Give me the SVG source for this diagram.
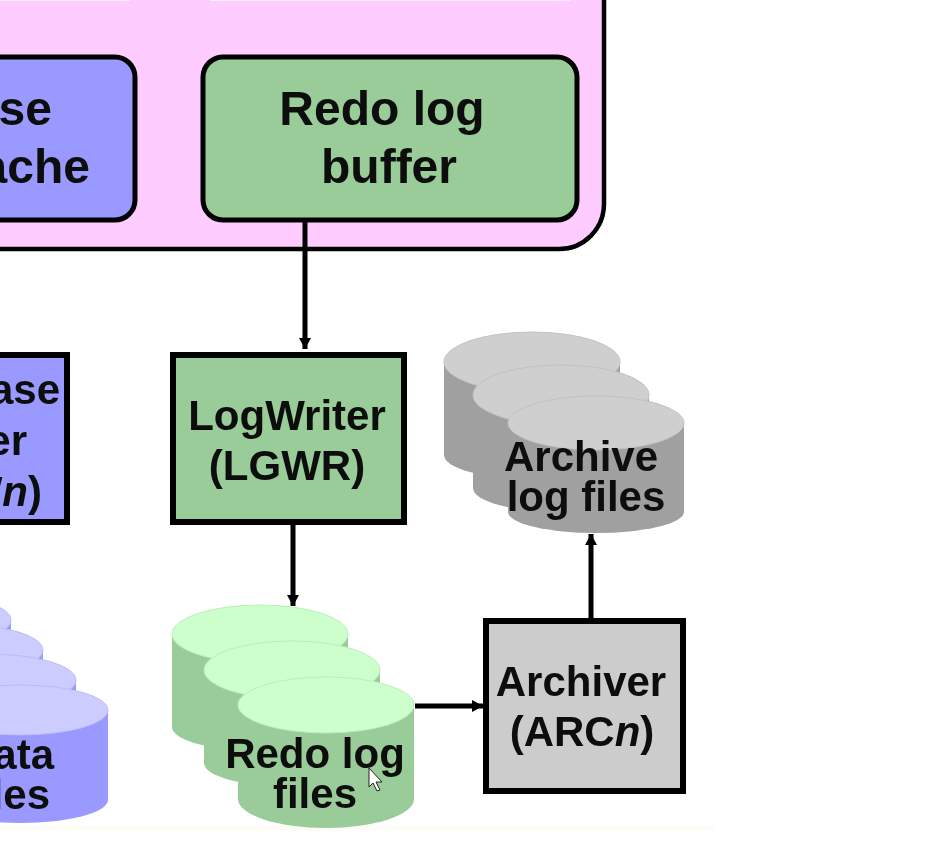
<svg xmlns="http://www.w3.org/2000/svg" width="925" height="856" viewBox="0 0 925 856">
<defs>
<filter id="soft" x="-5%" y="-5%" width="110%" height="110%"><feGaussianBlur stdDeviation="0.7"/></filter>
<marker id="arrow" markerUnits="userSpaceOnUse" markerWidth="14" markerHeight="14" refX="11" refY="6" orient="auto"><path d="M0 0L11 6L0 12Z" fill="#000"/></marker>
<path id="cyl" d="M-88 0V93A88 24 0 0 0 88 93V0Z"/>
</defs>
<style>
text{font-family:"Liberation Sans",Arial,sans-serif;font-weight:700;fill:#0a0f0a;text-anchor:middle}
.t48{font-size:48px}.t42{font-size:42px}.end{text-anchor:end}
.box{stroke:#000;stroke-width:6}
.rr{stroke:#000;stroke-width:5}
.link{fill:none;stroke:#000;stroke-width:5;marker-end:url(#arrow)}
.gs{fill:#99cc99}.gt{fill:#ccffcc;stroke:#bbeebb;stroke-width:1}.bs{fill:#9999ff}.bt{fill:#ccccff;stroke:#bcbcf6;stroke-width:1}.ys{fill:#a0a0a0}.yt{fill:#cfcfcf;stroke:#c2c2c2;stroke-width:1}
</style>
<rect width="925" height="856" fill="#fff"/>
<rect y="826" width="715" height="5" fill="#fdfcf6"/>
<g filter="url(#soft)">
<g id="sga">
<path d="M-20 -20H604V204A45 45 0 0 1 559 249H-20Z" fill="#ffccff" stroke="#000" stroke-width="4.500"/>
<rect x="-10" y="-10" width="140" height="11" fill="#fbeefb"/>
<rect x="210" y="-10" width="360" height="11" fill="#fbeefb"/>
</g>
<g id="buffer-cache">
<rect class="rr" x="-30" y="57" width="165" height="163" rx="20" fill="#9999ff"/>
<text class="t48 end" x="52" y="125">se</text>
<text class="t48 end" x="90" y="183">ache</text>
</g>
<g id="redo-buffer">
<rect class="rr" x="203" y="57" width="374" height="163" rx="20" fill="#99cc99"/>
<text class="t48" x="382" y="125">Redo log</text>
<text class="t48" x="389" y="183">buffer</text>
</g>
<g id="connectors">
<path class="link" d="M305 220V349"/>
<path class="link" d="M293 525V606"/>
<path class="link" d="M415 706H483"/>
<path class="link" d="M591 618V534"/>
</g>
<g id="db-writer">
<rect class="box" x="-30" y="355" width="97" height="167" fill="#9999ff"/>
<text class="t42 end" x="60" y="404">ase</text>
<text class="t42 end" x="27" y="455">er</text>
<text class="t42 end" x="42" y="506">W<tspan font-style="italic">n</tspan>)</text>
</g>
<g id="log-writer">
<rect class="box" x="173" y="355" width="231" height="167" fill="#99cc99"/>
<text class="t42" x="287" y="430">LogWriter</text>
<text class="t42" x="287" y="480">(LGWR)</text>
</g>
<g id="archiver">
<rect class="box" x="486" y="621" width="197" height="170" fill="#cccccc"/>
<text class="t42" x="581" y="696">Archiver</text>
<text class="t42" x="582" y="746">(ARC<tspan font-style="italic">n</tspan>)</text>
</g>
<g id="data-files">
<use href="#cyl" x="-77" y="620" class="bs"/><ellipse class="bt" cx="-77" cy="620" rx="88" ry="26"/>
<use href="#cyl" x="-45" y="650" class="bs"/><ellipse class="bt" cx="-45" cy="650" rx="88" ry="26"/>
<use href="#cyl" x="-12" y="680" class="bs"/><ellipse class="bt" cx="-12" cy="680" rx="88" ry="26"/>
<path class="bs" d="M-68 710V800A88 23 0 0 0 108 800V710Z"/><ellipse class="bt" cx="20" cy="710" rx="88" ry="25"/>
<text class="t42 end" x="54" y="769">ata</text>
<text class="t42 end" x="50" y="809">les</text>
</g>
<g id="redo-files">
<use href="#cyl" x="260" y="634" class="gs"/><ellipse class="gt" cx="260" cy="634" rx="88" ry="29"/>
<use href="#cyl" x="292" y="670" class="gs"/><ellipse class="gt" cx="292" cy="670" rx="88" ry="29"/>
<path class="gs" d="M238 705V799A88 29 0 0 0 414 799V705Z"/><ellipse class="gt" cx="326" cy="705" rx="88" ry="28"/>
<text class="t42" x="315" y="768">Redo log</text>
<text class="t42" x="315" y="808">files</text>
</g>
<g id="archive-files">
<use href="#cyl" x="532" y="362" class="ys"/><ellipse class="yt" cx="532" cy="362" rx="88" ry="30"/>
<use href="#cyl" x="561" y="395" class="ys"/><ellipse class="yt" cx="561" cy="395" rx="88" ry="30"/>
<path class="ys" d="M508 423V512A88 21 0 0 0 684 512V423Z"/><ellipse class="yt" cx="596" cy="423" rx="88" ry="27"/>
<text class="t42" x="581" y="471">Archive</text>
<text class="t42" x="586" y="511">log files</text>
</g>
<path id="cursor" d="M369 768V787L373 783L377 791L380 790L376 782H382Z" fill="#fff" stroke="#222" stroke-width="1"/>
</g>
</svg>
